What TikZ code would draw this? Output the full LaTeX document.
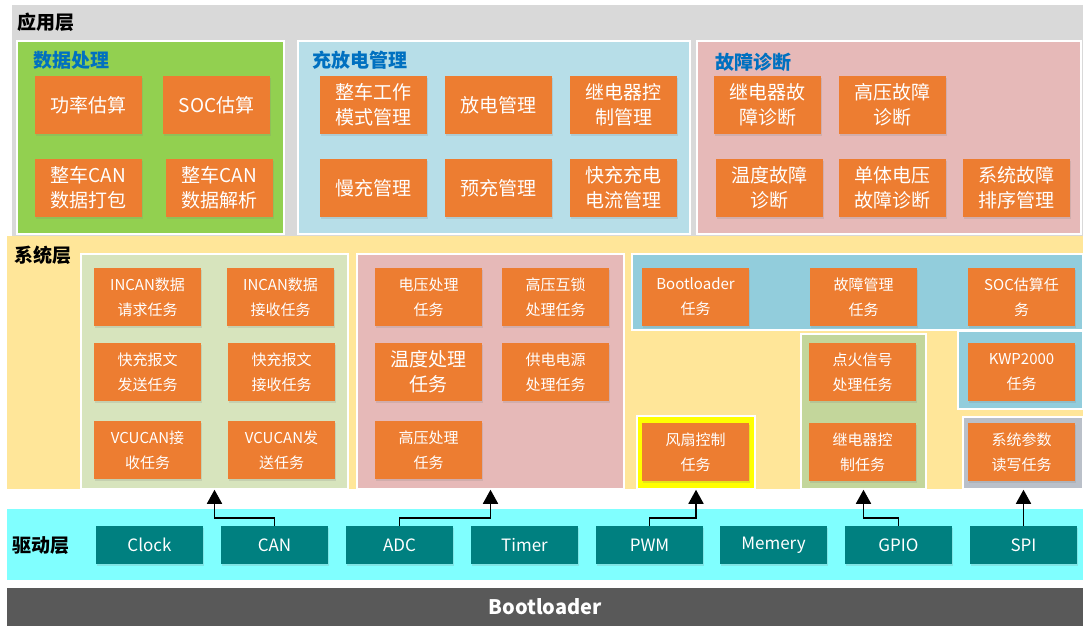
\documentclass[tikz,border=0pt]{standalone}
\usepackage{fontspec}
\setmainfont{Noto Sans CJK SC}
\usetikzlibrary{fit,shadows,arrows.meta}

\definecolor{appgray}{HTML}{D9D9D9}
\definecolor{datagreen}{HTML}{92D050}
\definecolor{chargeblue}{HTML}{B7DEE8}
\definecolor{faultpink}{HTML}{E6B9B8}
\definecolor{sysyellow}{HTML}{FFE699}
\definecolor{canolive}{HTML}{D7E4BD}
\definecolor{gpioolive}{HTML}{C3D69B}
\definecolor{bootblue}{HTML}{92CDDC}
\definecolor{pwmyellow}{HTML}{FFFF00}
\definecolor{spigray}{HTML}{BAC0C9}
\definecolor{drvcyan}{HTML}{80FFFF}
\definecolor{drvteal}{HTML}{008080}
\definecolor{bootdark}{HTML}{595959}
\definecolor{taskorange}{HTML}{ED7D31}
\definecolor{titleblue}{HTML}{0070C0}

\begin{document}
\begin{tikzpicture}[
  x = 1pt, y = -1pt,
  every node/.style = {inner sep = 0pt},
  panel/.style = {fill = #1, draw = white, line width = 1.5pt},
  layer/.style = {fill = #1, draw = none},
  task/.style = {fill = taskorange, text = white, minimum width = 107pt, minimum height = 58pt,
    align = center, font = \fontsize{19}{25}\selectfont,
    drop shadow = {shadow xshift = 1pt, shadow yshift = -2pt, opacity = .2}},
  subtask/.style = {task, font = \fontsize{15}{25}\selectfont},
  driver/.style = {fill = drvteal, text = white, minimum width = 107pt, minimum height = 38pt,
    font = \fontsize{17}{20}\selectfont,
    drop shadow = {shadow xshift = 1pt, shadow yshift = -2pt, opacity = .2}},
  layertitle/.style = {anchor = west, font = \bfseries\fontsize{19}{22}\selectfont},
  paneltitle/.style = {layertitle, text = titleblue},
  up/.style = {-{Triangle[width = 15pt, length = 14pt]}, line width = 1.6pt}
  ]
  \useasboundingbox (0,0) rectangle (1083,626);

  \node[layer = appgray, fit = {(12,5) (1083,236)}] (appL) {};
  \node[layertitle] (appT) at (17,22) {应用层};
  \node[panel = datagreen, fit = {(17,41) (284,234)}] (pData) {};
  \node[panel = chargeblue, fit = {(298,41) (690,234)}] (pCharge) {};
  \node[panel = faultpink, fit = {(697,41) (1081,234)}] (pFault) {};
  \node[paneltitle] (dataT) at (33,60) {数据处理};
  \node[paneltitle] (chargeT) at (312,60) {充放电管理};
  \node[paneltitle] (faultT) at (715,62) {故障诊断};

  \node[task] (power) at (88.5,105) {功率估算};
  \node[task] (soc) at (216.5,105) {SOC估算};
  \node[task] (pack) at (88.5,188) {整车CAN\\数据打包};
  \node[task] (parse) at (219.5,188) {整车CAN\\数据解析};
  \node[task] (mode) at (373.5,105) {整车工作\\模式管理};
  \node[task] (dischg) at (498.5,105) {放电管理};
  \node[task] (relay) at (623.5,105) {继电器控\\制管理};
  \node[task] (slow) at (373.5,188) {慢充管理};
  \node[task] (prechg) at (498.5,188) {预充管理};
  \node[task] (fast) at (623.5,188) {快充充电\\电流管理};
  \node[task] (relayF) at (767.5,105) {继电器故\\障诊断};
  \node[task] (hvF) at (892.5,105) {高压故障\\诊断};
  \node[task] (tempF) at (769.5,188) {温度故障\\诊断};
  \node[task] (cellF) at (892.5,188) {单体电压\\故障诊断};
  \node[task] (sortF) at (1016.5,188) {系统故障\\排序管理};

  \node[layer = sysyellow, fit = {(7,236) (1083,489)}] (sysL) {};
  \node[layertitle] (sysT) at (14,255) {系统层};
  \node[panel = canolive, fit = {(81,254) (348,489)}] (pCan) {};
  \node[panel = faultpink, fit = {(357,254) (624,489)}] (pAdc) {};
  \node[panel = bootblue, fit = {(632,254) (1083,330)}] (pBoot) {};
  \node[panel = bootblue, fit = {(958,331) (1083,409)}] (pKwp) {};
  \node[panel = gpioolive, fit = {(801,334) (926,489)}] (pGpio) {};
  \node[panel = pwmyellow, fit = {(637,416) (755,489)}] (pPwm) {};
  \node[panel = spigray, fit = {(963,417) (1083,489)}] (pSpi) {};

  \node[subtask] (inReq) at (147.5,297) {INCAN数据\\请求任务};
  \node[subtask] (inRec) at (280.5,297) {INCAN数据\\接收任务};
  \node[subtask] (fastTx) at (147.5,372) {快充报文\\发送任务};
  \node[subtask] (fastRx) at (281.5,372) {快充报文\\接收任务};
  \node[subtask] (vcuRx) at (147.5,450) {VCUCAN接\\收任务};
  \node[subtask] (vcuTx) at (281.5,450) {VCUCAN发\\送任务};
  \node[subtask] (volt) at (428.5,297) {电压处理\\任务};
  \node[subtask] (hvil) at (555.5,297) {高压互锁\\处理任务};
  \node[task] (temp) at (428.5,372) {温度处理\\任务};
  \node[subtask] (supply) at (555.5,372) {供电电源\\处理任务};
  \node[subtask] (hv) at (428.5,450) {高压处理\\任务};
  \node[subtask] (bootTask) at (695.5,297) {Bootloader\\任务};
  \node[subtask] (faultTask) at (863.5,297) {故障管理\\任务};
  \node[subtask] (socTask) at (1021.5,297) {SOC估算任\\务};
  \node[subtask] (kwp) at (1021.5,372) {KWP2000\\任务};
  \node[subtask] (ign) at (862.5,372) {点火信号\\处理任务};
  \node[subtask] (relayTask) at (862.5,452) {继电器控\\制任务};
  \node[subtask] (fan) at (695.5,452) {风扇控制\\任务};
  \node[subtask] (param) at (1021.5,452) {系统参数\\读写任务};

  \node[layer = drvcyan, fit = {(7,509) (1083,580)}] (drvL) {};
  \node[layertitle] (drvT) at (12,546) {驱动层};
  \node[driver] (clock) at (149.5,545) {Clock};
  \node[driver] (can) at (274.5,545) {CAN};
  \node[driver] (adc) at (399.5,545) {ADC};
  \node[driver] (timer) at (524.5,545) {Timer};
  \node[driver] (pwm) at (649.5,545) {PWM};
  \node[driver] (mem) at (773.5,545) {Memery};
  \node[driver] (gpio) at (898.5,545) {GPIO};
  \node[driver] (spi) at (1023.5,545) {SPI};

  \draw[up] (can.north) -- ++(0,-8) -| (pCan.south);
  \draw[up] (adc.north) -- ++(0,-8) -| (pAdc.south);
  \draw[up] (pwm.north) -- ++(0,-8) -| (pPwm.south);
  \draw[up] (gpio.north) -- ++(0,-8) -| (pGpio.south);
  \draw[up] (spi.north) -- (spi.north |- pSpi.south);

  \node[layer = bootdark, fit = {(7,588) (1083,626)}] (bootL) {};
  \node[text = white, font = \bfseries\fontsize{20}{22}\selectfont] (bootT) at (bootL.center) {Bootloader};
\end{tikzpicture}
\end{document}
